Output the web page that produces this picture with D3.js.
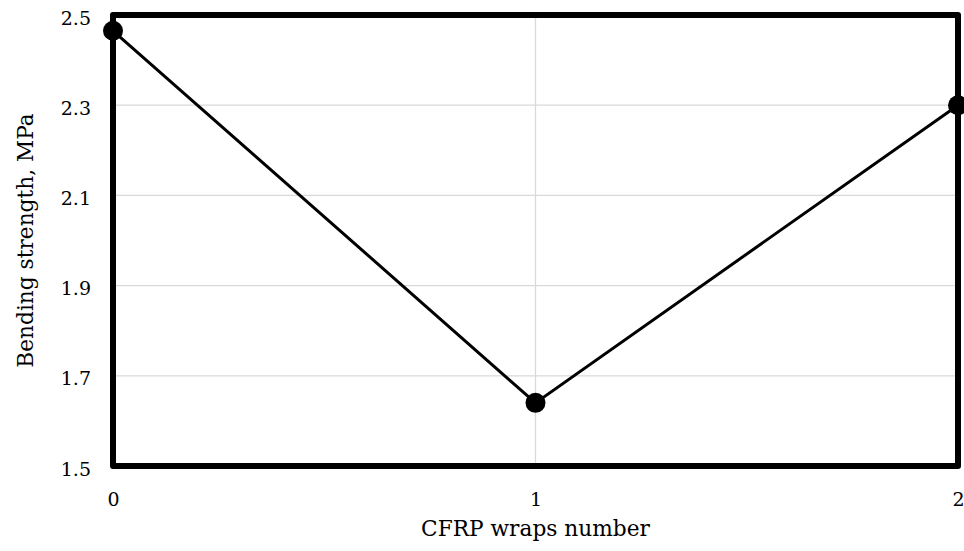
<!DOCTYPE html>
<html><head><meta charset="utf-8">
<script src="https://cdn.jsdelivr.net/npm/d3@7"></script>
<style>html,body{margin:0;padding:0;background:#fff;}svg{display:block;}</style>
</head><body>
<script>
const categories = [0, 1, 2];
const values = [2.465, 1.64, 2.30];
const yTicks = [1.5, 1.7, 1.9, 2.1, 2.3, 2.5];
const xTicks = [0, 1, 2];
const xTitle = "CFRP wraps number";
const yTitle = "Bending strength, MPa";

const W = 964, H = 551;
const svg = d3.select("body").append("svg").attr("width", W).attr("height", H);
const x = d3.scaleLinear().domain([0, 2]).range([113, 958]);
const y = d3.scaleLinear().domain([1.5, 2.5]).range([466, 15]);
const font = "DejaVu Serif";

// gridlines
svg.append("g").selectAll("line").data(yTicks).join("line")
  .attr("x1", x(0)).attr("x2", x(2)).attr("y1", d => y(d)).attr("y2", d => y(d))
  .attr("stroke", "#d9d9d9").attr("stroke-width", 1.3);
svg.append("g").selectAll("line").data(xTicks).join("line")
  .attr("y1", y(1.5)).attr("y2", y(2.5)).attr("x1", d => x(d)).attr("x2", d => x(d))
  .attr("stroke", "#d9d9d9").attr("stroke-width", 1.3);

// axes (labels only)
const yAxis = svg.append("g").attr("transform", `translate(${x(0)},0)`)
  .call(d3.axisLeft(y).tickValues(yTicks).tickFormat(d3.format(".1f")).tickSize(0).tickPadding(22));
const xAxis = svg.append("g").attr("transform", `translate(0,${y(1.5)})`)
  .call(d3.axisBottom(x).tickValues(xTicks).tickFormat(d3.format("d")).tickSize(0).tickPadding(40));
[yAxis, xAxis].forEach(a => {
  a.select(".domain").remove();
  a.selectAll("text").attr("font-family", font).attr("font-size", 19).attr("fill", "#000").attr("dy", null);
});
yAxis.selectAll("text").attr("dy", 9);

// plot border
svg.append("rect").attr("x", x(0)).attr("y", y(2.5)).attr("width", x(2) - x(0)).attr("height", y(1.5) - y(2.5))
  .attr("fill", "none").attr("stroke", "#000").attr("stroke-width", 6).attr("stroke-linejoin", "round");

// line + markers
const pts = categories.map((c, i) => [c, values[i]]);
svg.append("path").datum(pts)
  .attr("d", d3.line().x(d => x(d[0])).y(d => y(d[1])))
  .attr("fill", "none").attr("stroke", "#000").attr("stroke-width", 3);
svg.append("g").selectAll("circle").data(pts).join("circle")
  .attr("cx", d => x(d[0])).attr("cy", d => y(d[1])).attr("r", 10).attr("fill", "#000");

// titles
svg.append("text").attr("x", (x(0) + x(2)) / 2).attr("y", 536).attr("text-anchor", "middle")
  .attr("font-family", font).attr("font-size", 21.7).text(xTitle);
svg.append("text").attr("transform", `translate(33,${(y(1.5) + y(2.5)) / 2}) rotate(-90)`).attr("text-anchor", "middle")
  .attr("font-family", font).attr("font-size", 21.7).text(yTitle);
</script>
</body></html>
